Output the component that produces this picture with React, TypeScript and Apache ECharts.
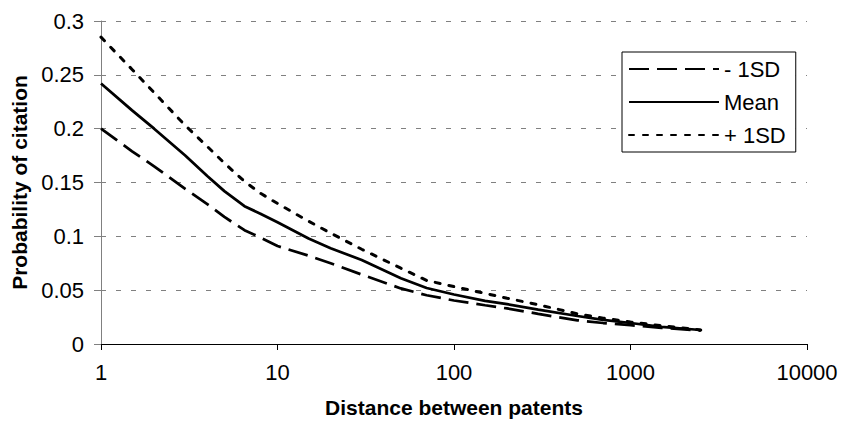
import React, { useEffect, useRef } from "react";
import * as echarts from "echarts";

const distance = [1, 1.5, 2, 3, 4, 5, 6.5, 8, 10, 15, 20, 30, 50, 70, 100, 150, 200, 300, 500, 700, 1000, 1500, 2500];
const minus1SD = [0.2, 0.179, 0.165, 0.144, 0.13, 0.118, 0.1057, 0.0988, 0.091, 0.082, 0.075, 0.0645, 0.0516, 0.0453, 0.0404, 0.036, 0.033, 0.028, 0.022, 0.0195, 0.0175, 0.015, 0.0125];
const meanValues = [0.242, 0.217, 0.2, 0.175, 0.156, 0.142, 0.128, 0.121, 0.113, 0.098, 0.089, 0.078, 0.061, 0.052, 0.046, 0.04, 0.037, 0.032, 0.026, 0.0225, 0.0195, 0.016, 0.013];
const plus1SD = [0.285, 0.255, 0.2335, 0.203, 0.1835, 0.168, 0.151, 0.14, 0.1305, 0.114, 0.103, 0.088, 0.0704, 0.059, 0.0533, 0.047, 0.0425, 0.0365, 0.028, 0.024, 0.0205, 0.017, 0.013];
const seriesNames = ["- 1SD", "Mean", "+ 1SD"];
const xTitle = "Distance between patents";
const yTitle = "Probability of citation";

const FONT = "'Liberation Sans', Arial, sans-serif";

function pairs(ys: number[]) {
  return distance.map((d, i) => [d, ys[i]]);
}

export default function App() {
  const ref = useRef<HTMLDivElement>(null);
  useEffect(() => {
    if (!ref.current) return;
    const chart = echarts.init(ref.current, null, { renderer: "svg" });
    chart.setOption({
      animation: false,
      backgroundColor: "#fff",
      textStyle: { fontFamily: FONT },
      grid: { left: 101, right: 34, top: 21, bottom: 79, containLabel: false },
      legend: {
        orient: "vertical",
        left: 622,
        top: 52,
        padding: [6, 10, 6, 6],
        itemWidth: 90,
        itemHeight: 14,
        itemGap: 11,
        backgroundColor: "#fff",
        borderColor: "#000",
        borderWidth: 1,
        borderRadius: 0,
        itemStyle: { opacity: 0, borderWidth: 0 },
        textStyle: { fontSize: 22, color: "#000", fontFamily: FONT, lineHeight: 22 },
        data: seriesNames,
      },
      xAxis: {
        type: "log",
        logBase: 10,
        min: 1,
        max: 10000,
        name: xTitle,
        nameLocation: "middle",
        nameGap: 53,
        nameTextStyle: { fontSize: 21, fontWeight: "bold", color: "#000", fontFamily: FONT },
        axisLine: { lineStyle: { color: "#000", width: 1 } },
        axisTick: { show: true, length: 6, lineStyle: { color: "#000" } },
        minorTick: { show: false },
        splitLine: { show: false },
        axisLabel: {
          fontSize: 22,
          color: "#000",
          margin: 17,
          fontFamily: FONT,
          formatter: (v: number) => String(Math.round(v)),
        },
      },
      yAxis: {
        type: "value",
        min: 0,
        max: 0.3,
        interval: 0.05,
        name: yTitle,
        nameLocation: "middle",
        nameGap: 67,
        nameTextStyle: { fontSize: 21, fontWeight: "bold", color: "#000", fontFamily: FONT },
        axisLine: { show: true, lineStyle: { color: "#808080", width: 1 } },
        axisTick: { show: true, length: 7, lineStyle: { color: "#808080" } },
        splitLine: { show: true, lineStyle: { color: "#808080", type: [5, 10], width: 1 } },
        axisLabel: {
          fontSize: 22,
          color: "#000",
          margin: 17,
          fontFamily: FONT,
          formatter: (v: number) => String(Math.round(v * 100) / 100),
        },
      },
      series: [
        {
          name: seriesNames[0],
          type: "line",
          data: pairs(minus1SD),
          symbol: "none",
          color: "#000",
          lineStyle: { color: "#000", width: 2.75, type: [20, 8] },
        },
        {
          name: seriesNames[1],
          type: "line",
          data: pairs(meanValues),
          symbol: "none",
          color: "#000",
          lineStyle: { color: "#000", width: 2.75, type: "solid" },
        },
        {
          name: seriesNames[2],
          type: "line",
          data: pairs(plus1SD),
          symbol: "none",
          color: "#000",
          lineStyle: { color: "#000", width: 3, type: [5, 9], cap: "round" },
        },
      ],
    });
    return () => chart.dispose();
  }, []);
  return <div ref={ref} style={{ position: "absolute", left: 0, top: 0, width: 841, height: 423 }} />;
}
